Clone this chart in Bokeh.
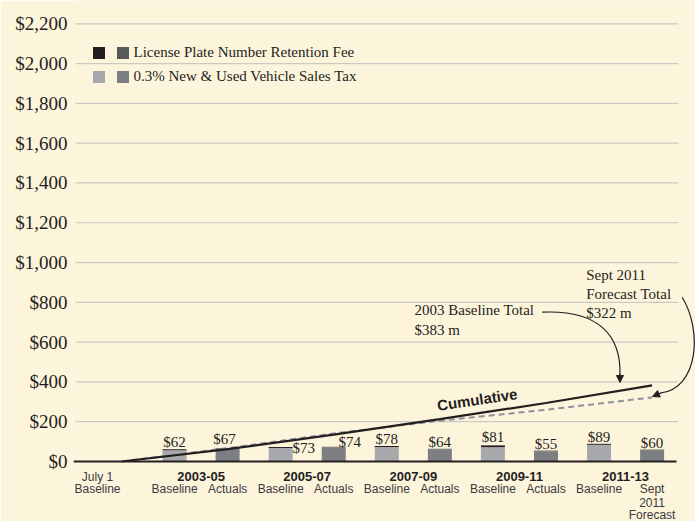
from bokeh.plotting import figure
from bokeh.models import (ColumnDataSource, FixedTicker, Legend, LegendItem, Label,
                          Arrow, NormalHead, Range1d)
from bokeh.core.properties import value
from bokeh.embed import file_html
from bokeh.resources import INLINE

# ---------------- data ----------------
periods = ["2003-05", "2005-07", "2007-09", "2009-11", "2011-13"]
baseline_total = [62, 73, 78, 81, 89]
baseline_license = [5, 5, 5, 9, 5]
actual_total = [67, 74, 64, 55, 60]
actual_license = [4, 4, 4, 4, 5]
baseline_names = ["Baseline", "Baseline", "Baseline", "Baseline", "Baseline"]
actual_names = ["Actuals", "Actuals", "Actuals", "Actuals", "Sept\n2011\nForecast"]
start_label = "July 1\nBaseline"
cumulative_baseline = [0, 62, 135, 213, 294, 383]
cumulative_actual = [0, 67, 141, 205, 260, 322]
y_ticks = [0, 200, 400, 600, 800, 1000, 1200, 1400, 1600, 1800, 2000, 2200]
y_tick_labels = ["$0", "$200", "$400", "$600", "$800", "$1,000", "$1,200", "$1,400",
                 "$1,600", "$1,800", "$2,000", "$2,200"]
legend_labels = ["License Plate Number Retention Fee", "0.3% New & Used Vehicle Sales Tax"]

# label nudges (screen px) for the value labels
base_dx = [0, 23, 0, 0, 0]
base_dy = [-7, 1, -7, -8, -7]
act_dx = [-3, 16, 0, 0, 0]
act_dy = [-9, -5, -7, -7, -7]

# ---------------- style ----------------
BG = "#fdf4dc"
DARK = "#231f20"
LIGHT = "#a7a8ac"
MID = "#7d7e82"
DARKGRAY = "#58595b"
GRID = "#cbc9c3"
DASH = "#8f929c"
SERIF = "Liberation Serif"
SANS = "Liberation Sans"

# pixel helpers (reference image px -> data units) for annotations
def ux(sx):
    return (sx - 121.0) / 53.06

def vy(sy):
    return (461.0 - sy) / 0.19895

p = figure(width=695, height=521, output_backend="svg", toolbar_location=None,
           x_axis_type=None, x_range=Range1d(ux(73), ux(695)),
           y_range=Range1d(vy(521), vy(0)),
           min_border_left=73, min_border_right=0, min_border_top=0, min_border_bottom=0)
p.background_fill_color = BG
p.border_fill_color = BG
p.outline_line_color = None
p.ygrid.grid_line_color = None

# y axis
ax = p.yaxis[0]
ax.ticker = FixedTicker(ticks=y_ticks)
ax.major_label_overrides = {t: l for t, l in zip(y_ticks, y_tick_labels)}
ax.axis_line_color = None
ax.major_tick_line_color = None
ax.minor_tick_line_color = None
ax.major_tick_out = 0
ax.major_tick_in = 0
ax.major_label_standoff = 6
ax.major_label_text_font = SERIF
ax.major_label_text_font_size = "19px"
ax.major_label_text_color = DARK

# grid lines (limited extent like the original)
p.segment(x0=ux(75), x1=ux(677.7), y0=y_ticks[1:], y1=y_ticks[1:],
          line_color=GRID, line_width=1.2)

# bars
n = len(periods)
bx = [1 + 2 * i for i in range(n)]
axp = [2 + 2 * i for i in range(n)]
src_b = ColumnDataSource(dict(x=bx, tax=[t - l for t, l in zip(baseline_total, baseline_license)],
                              lic=baseline_license, total=baseline_total,
                              lab=["$%d" % v for v in baseline_total], dx=base_dx, dy=base_dy))
src_a = ColumnDataSource(dict(x=axp, tax=[t - l for t, l in zip(actual_total, actual_license)],
                              lic=actual_license, total=actual_total,
                              lab=["$%d" % v for v in actual_total], dx=act_dx, dy=act_dy))
BW = 24 / 53.06
b_tax, b_lic = p.vbar_stack(["tax", "lic"], x="x", width=BW, color=[LIGHT, DARK],
                            line_color=None, source=src_b)
a_tax, a_lic = p.vbar_stack(["tax", "lic"], x="x", width=BW, color=[MID, DARKGRAY],
                            line_color=None, source=src_a)

# axis line at zero
p.segment(x0=ux(73), x1=ux(676), y0=0, y1=0, line_color=DARK, line_width=2)

# cumulative lines
cx = [2 * k for k in range(len(cumulative_baseline))]
p.line(cx, cumulative_actual, line_color=DASH, line_width=2, line_dash="6 4")
p.line(cx, cumulative_baseline, line_color=DARK, line_width=2.2)

# value labels
for src in (src_b, src_a):
    p.text(x="x", y="total", text="lab", x_offset="dx", y_offset="dy", source=src,
           text_align="center", text_baseline="alphabetic",
           text_font=value(SERIF), text_font_size="15px", text_color=DARK)

# category labels
p.text(x=[1.5 + 2 * i for i in range(n)], y=[0] * n, text=periods, y_offset=15,
       text_align="center", text_baseline="middle", text_font=value(SANS),
       text_font_size="13px", text_font_style="bold", text_color=DARK)
kind_x, kind_lines = [], []
for i in range(n):
    kind_x += [bx[i], axp[i]]
    kind_lines += [baseline_names[i].split("\n"), actual_names[i].split("\n")]
for row, off in enumerate([27.5, 40.5, 53.5]):
    xs = [x for x, ls in zip(kind_x, kind_lines) if len(ls) > row]
    ts = [ls[row] for ls in kind_lines if len(ls) > row]
    p.text(x=xs, y=[0] * len(xs), text=ts, y_offset=off, text_align="center",
           text_baseline="middle", text_font=value(SANS), text_font_size="12px",
           text_color="#3a3a3c")
for row, line in enumerate(start_label.split("\n")):
    p.text(x=[0], y=[0], text=[line], x_offset=-24, y_offset=15 + 12.5 * row,
           text_align="center", text_baseline="middle", text_font=value(SANS),
           text_font_size="12px", text_color="#3a3a3c")

# legends (two swatch columns)
common = dict(glyph_width=15, glyph_height=15, label_height=18, spacing=6, padding=0,
              margin=0, background_fill_alpha=0, border_line_alpha=0,
              label_text_font=SERIF, label_text_font_size="15px", label_text_color=DARK)
leg1 = Legend(items=[LegendItem(label="I", renderers=[b_lic]),
                     LegendItem(label="I", renderers=[b_tax])],
              location=(17.5, 436), label_width=0, label_standoff=0,
              label_text_alpha=0, **common)
leg2 = Legend(items=[LegendItem(label=legend_labels[0], renderers=[a_lic]),
                     LegendItem(label=legend_labels[1], renderers=[a_tax])],
              location=(41.5, 436), label_standoff=4, **common)
p.add_layout(leg1)
p.add_layout(leg2)

# annotations
p.add_layout(Label(x=ux(476.7), y=vy(399), text="Cumulative", angle=8.5, angle_units="deg",
                   text_align="center", text_baseline="middle", text_font=SANS,
                   text_font_size="15px", text_font_style="bold", text_color=DARK))
ann = [("2003 Baseline Total", 414, 309.3), ("$383 m", 414, 329.3),
       ("Sept 2011", 585.7, 274), ("Forecast Total", 585.7, 293.3), ("$322 m", 585.7, 312.3)]
for t, sx, sy in ann:
    p.add_layout(Label(x=ux(sx), y=vy(sy), text=t, text_align="left", text_baseline="middle",
                       text_font=SERIF, text_font_size="15px", text_color=DARK))

p.bezier(x0=[ux(541.7), ux(681.7)], y0=[vy(311.7), vy(296.7)],
         x1=[ux(619.4), ux(660.0)], y1=[vy(375.0), vy(392.5)],
         cx0=[ux(598.0), ux(702.0)], cy0=[vy(309.0), vy(330.0)],
         cx1=[ux(621.0), ux(698.0)], cy1=[vy(335.0), vy(388.0)],
         line_color=DARK, line_width=1.2)
for xs_, ys_, xe_, ye_ in [(619.4, 373.0, 619.5, 382.0), (661.0, 392.2, 652.0, 396.0)]:
    p.add_layout(Arrow(x_start=ux(xs_), y_start=vy(ys_), x_end=ux(xe_), y_end=vy(ye_),
                       line_color=DARK, line_width=1.2,
                       end=NormalHead(size=7, fill_color=DARK, line_color=DARK)))

html = file_html(p, INLINE, title="chart")
open("out.html", "w").write(html)
